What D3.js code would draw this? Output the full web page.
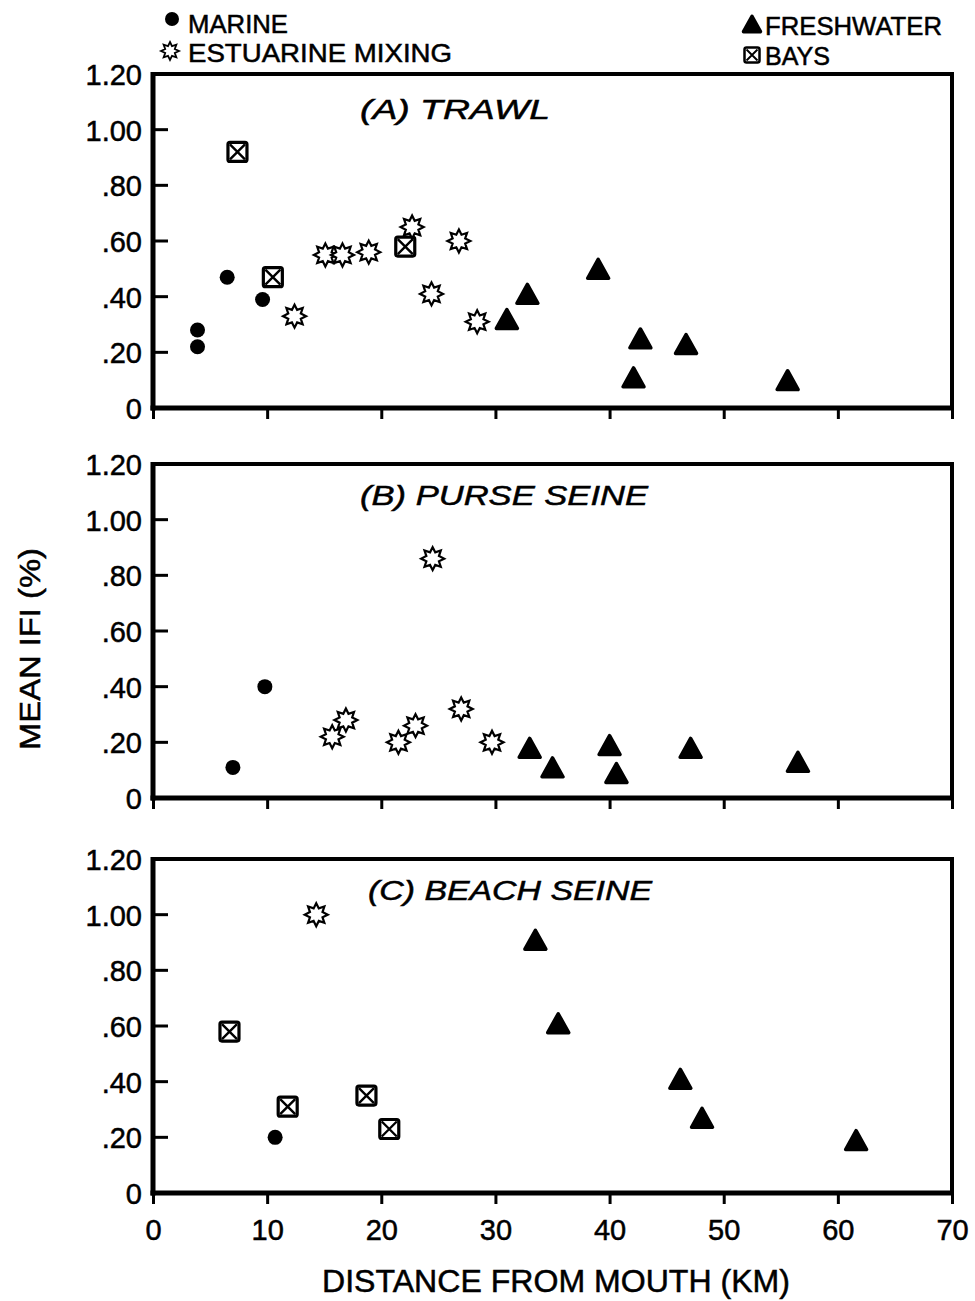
<!DOCTYPE html>
<html>
<head>
<meta charset="utf-8">
<script src="https://cdn.jsdelivr.net/npm/d3@7"></script>
<style>
  html, body { margin: 0; padding: 0; background: #fff; }
  svg { display: block; }
  text { font-family: "Liberation Sans", Arial, sans-serif; fill: #000; stroke: #000; stroke-width: 0.5; }
</style>
</head>
<body>
<script>
// Mean IFI (%) by distance from the river mouth, three gear types.
// Each point: [distance km, mean IFI %]

const xTickValues = [0, 10, 20, 30, 40, 50, 60, 70];
const xTickLabels = ["0", "10", "20", "30", "40", "50", "60", "70"];
const yTickValues = [0, 0.2, 0.4, 0.6, 0.8, 1.0, 1.2];
const yTickLabels = ["0", ".20", ".40", ".60", ".80", "1.00", "1.20"];

const panelTitles = ["(A) TRAWL", "(B) PURSE SEINE", "(C) BEACH SEINE"];
const groupNames = ["MARINE", "ESTUARINE MIXING", "FRESHWATER", "BAYS"];

// (A) Trawl
const trawlMarine = [[3.9, 0.28], [3.9, 0.22], [6.5, 0.47], [9.6, 0.39]];
const trawlEstuarine = [[12.4, 0.33], [15.1, 0.55], [16.6, 0.55], [18.9, 0.56],
                        [22.7, 0.65], [24.4, 0.41], [26.8, 0.60], [28.4, 0.31]];
const trawlFreshwater = [[31.0, 0.32], [32.8, 0.41], [39.0, 0.50], [42.1, 0.11],
                         [42.7, 0.25], [46.7, 0.23], [55.6, 0.10]];
const trawlBays = [[7.4, 0.92], [10.5, 0.47], [22.1, 0.58]];

// (B) Purse seine
const purseMarine = [[7.0, 0.11], [9.8, 0.40]];
const purseEstuarine = [[15.7, 0.22], [16.9, 0.28], [21.5, 0.20], [23.0, 0.26],
                        [24.5, 0.86], [27.0, 0.32], [29.7, 0.20]];
const purseFreshwater = [[33.0, 0.18], [35.0, 0.11], [40.0, 0.19], [40.6, 0.09],
                         [47.1, 0.18], [56.5, 0.13]];
const purseBays = [];

// (C) Beach seine
const beachMarine = [[10.7, 0.20]];
const beachEstuarine = [[14.3, 1.00]];
const beachFreshwater = [[33.5, 0.91], [35.5, 0.61], [46.2, 0.41], [48.1, 0.27], [61.6, 0.19]];
const beachBays = [[6.7, 0.58], [11.8, 0.31], [18.7, 0.35], [20.7, 0.23]];

const panels = [
  { title: panelTitles[0], marine: trawlMarine, estuarine: trawlEstuarine, freshwater: trawlFreshwater, bays: trawlBays },
  { title: panelTitles[1], marine: purseMarine, estuarine: purseEstuarine, freshwater: purseFreshwater, bays: purseBays },
  { title: panelTitles[2], marine: beachMarine, estuarine: beachEstuarine, freshwater: beachFreshwater, bays: beachBays }
];

// ---- layout ----
const W = 975, H = 1301;
const left = 153, right = 952;
const panelTops = [74, 464, 859];
const panelH = 334;
const titlePos = [{ x: 360, y: 119, len: 190 }, { x: 360, y: 505, len: 288 }, { x: 368, y: 900, len: 284 }];

const svg = d3.select("body").append("svg").attr("width", W).attr("height", H);

const x = d3.scaleLinear().domain([0, 70]).range([left, right]);

// ---- marker shapes ----
function starPath(ro, ri) {
  const pts = [];
  for (let i = 0; i < 16; i++) {
    const r = i % 2 === 0 ? ro : ri;
    const a = (i * Math.PI) / 8 - Math.PI / 2;
    pts.push([r * Math.cos(a), r * Math.sin(a)]);
  }
  return "M" + pts.map(p => p[0].toFixed(2) + "," + p[1].toFixed(2)).join("L") + "Z";
}
function triPath(s) {
  // triangle centred on its bounding box
  const h = s * 0.9;
  return `M0,${-h / 2}L${s / 2},${h / 2}L${-s / 2},${h / 2}Z`;
}

function drawMarine(g, cx, cy, r) {
  g.append("circle").attr("cx", cx).attr("cy", cy).attr("r", r).attr("fill", "#000");
}
function drawEstuarine(g, cx, cy, ro, ri, sw) {
  g.append("path").attr("d", starPath(ro, ri))
    .attr("transform", `translate(${cx},${cy})`)
    .attr("fill", "#fff").attr("stroke", "#000").attr("stroke-width", sw)
    .attr("stroke-linejoin", "miter");
}
function drawFreshwater(g, cx, cy, s) {
  g.append("path").attr("d", triPath(s))
    .attr("transform", `translate(${cx},${cy})`)
    .attr("fill", "#000").attr("stroke", "#000").attr("stroke-width", 3.5)
    .attr("stroke-linejoin", "round");
}
function drawBays(g, cx, cy, s, sw) {
  const h = s / 2;
  g.append("rect").attr("x", cx - h).attr("y", cy - h).attr("width", s).attr("height", s)
    .attr("rx", 2).attr("fill", "#fff").attr("stroke", "#000").attr("stroke-width", sw);
  const d = h - 2;
  g.append("path")
    .attr("d", `M${cx - d},${cy - d}L${cx + d},${cy + d}M${cx + d},${cy - d}L${cx - d},${cy + d}`)
    .attr("stroke", "#000").attr("stroke-width", sw * 0.75).attr("fill", "none");
}

// ---- panels ----
panels.forEach((p, i) => {
  const top = panelTops[i], bottom = top + panelH;
  const y = d3.scaleLinear().domain([0, 1.2]).range([bottom, top]);
  const g = svg.append("g");

  // y axis: labels and inward ticks
  const yAxis = d3.axisLeft(y)
    .tickValues(yTickValues)
    .tickFormat((d, k) => yTickLabels[k])
    .tickSize(0).tickPadding(11);
  const ya = g.append("g").attr("transform", `translate(${left},0)`).call(yAxis);
  ya.select(".domain").remove();
  ya.selectAll("text").attr("font-size", 29).attr("dy", "0.36em")
    .style("font-family", "'Liberation Sans', Arial, sans-serif")
    .attr("stroke", "#000").attr("stroke-width", 0.6);
  yTickValues.filter(v => v > 0 && v < 1.2).forEach(v => {
    g.append("line").attr("x1", left).attr("x2", left + 15)
      .attr("y1", y(v)).attr("y2", y(v)).attr("stroke", "#000").attr("stroke-width", 3);
  });

  // x axis ticks below the frame
  const xAxis = d3.axisBottom(x).tickValues(xTickValues)
    .tickFormat((d, k) => (i === 2 ? xTickLabels[k] : ""))
    .tickSizeInner(11).tickSizeOuter(0).tickPadding(15);
  const xa = g.append("g").attr("transform", `translate(0,${bottom})`).call(xAxis);
  xa.select(".domain").remove();
  xa.selectAll(".tick line").attr("stroke", "#000").attr("stroke-width", 3);
  xa.selectAll("text").attr("font-size", 29)
    .style("font-family", "'Liberation Sans', Arial, sans-serif")
    .attr("stroke", "#000").attr("stroke-width", 0.6);

  // frame
  g.append("line").attr("x1", left).attr("x2", right).attr("y1", top).attr("y2", top)
    .attr("stroke", "#000").attr("stroke-width", 4);
  g.append("line").attr("x1", right).attr("x2", right).attr("y1", top - 2).attr("y2", bottom + 2)
    .attr("stroke", "#000").attr("stroke-width", 4);
  g.append("line").attr("x1", left).attr("x2", left).attr("y1", top - 2).attr("y2", bottom + 2.5)
    .attr("stroke", "#000").attr("stroke-width", 5);
  g.append("line").attr("x1", left - 2.5).attr("x2", right + 2).attr("y1", bottom).attr("y2", bottom)
    .attr("stroke", "#000").attr("stroke-width", 5);

  // title
  g.append("text").attr("x", titlePos[i].x).attr("y", titlePos[i].y)
    .attr("font-size", 27).attr("font-style", "italic")
    .attr("textLength", titlePos[i].len).attr("lengthAdjust", "spacingAndGlyphs")
    .text(p.title);

  // points
  const pts = g.append("g");
  p.bays.forEach(d => drawBays(pts, x(d[0]), y(d[1]), 19, 3.2));
  p.estuarine.forEach(d => drawEstuarine(pts, x(d[0]), y(d[1]), 11.5, 6.8, 2.2));
  p.marine.forEach(d => drawMarine(pts, x(d[0]), y(d[1]), 7.5));
  p.freshwater.forEach(d => drawFreshwater(pts, x(d[0]), y(d[1]), 21));
});

// ---- legend ----
const lg = svg.append("g");
drawMarine(lg, 172, 19, 7);
lg.append("text").attr("x", 188).attr("y", 33).attr("font-size", 25)
  .attr("textLength", 100).attr("lengthAdjust", "spacingAndGlyphs").text(groupNames[0]);
drawEstuarine(lg, 170, 51, 9, 5.2, 1.8);
lg.append("text").attr("x", 188).attr("y", 62).attr("font-size", 25)
  .attr("textLength", 264).attr("lengthAdjust", "spacingAndGlyphs").text(groupNames[1]);
drawFreshwater(lg, 752, 24, 17);
lg.append("text").attr("x", 765).attr("y", 35).attr("font-size", 25)
  .attr("textLength", 177).attr("lengthAdjust", "spacingAndGlyphs").text(groupNames[2]);
drawBays(lg, 752, 55, 15, 2.5);
lg.append("text").attr("x", 765).attr("y", 65).attr("font-size", 25)
  .attr("textLength", 65).attr("lengthAdjust", "spacingAndGlyphs").text(groupNames[3]);

// ---- axis titles ----
svg.append("text")
  .attr("transform", "translate(40,649) rotate(-90)")
  .attr("text-anchor", "middle").attr("font-size", 30)
  .attr("textLength", 202).attr("lengthAdjust", "spacingAndGlyphs")
  .text("MEAN IFI (%)");

svg.append("text")
  .attr("x", 556).attr("y", 1292).attr("text-anchor", "middle").attr("font-size", 31)
  .attr("textLength", 468).attr("lengthAdjust", "spacingAndGlyphs")
  .text("DISTANCE FROM MOUTH (KM)");
</script>
</body>
</html>
